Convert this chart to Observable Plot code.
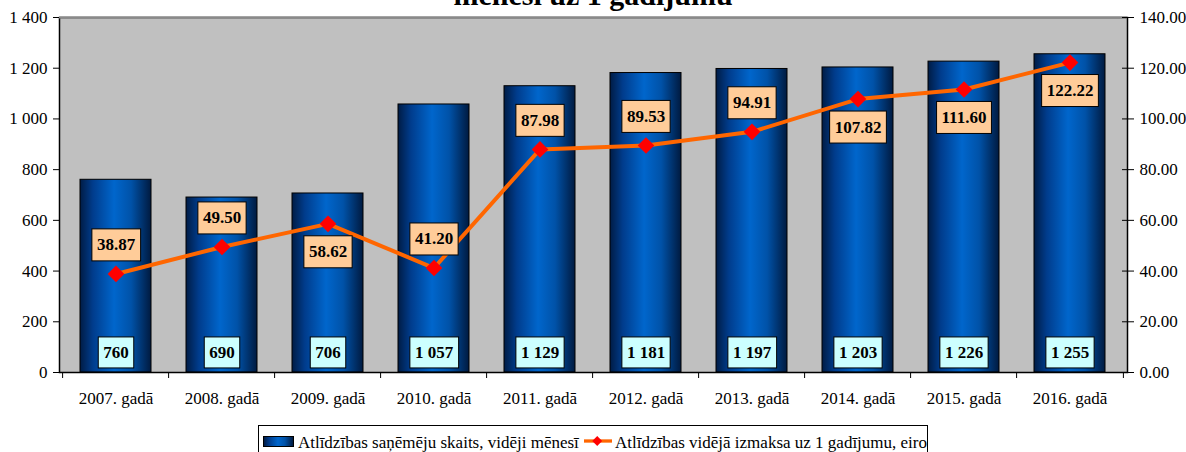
<!DOCTYPE html>
<html><head><meta charset="utf-8">
<script src="https://cdn.jsdelivr.net/npm/d3@7"></script>
<script src="https://cdn.jsdelivr.net/npm/@observablehq/plot@0.6"></script>
<style>
body{margin:0;background:#fff;font-family:"Liberation Serif",serif;}
#wrap{position:relative;width:1186px;height:452px;overflow:hidden;}
#title{position:absolute;left:0;width:1186px;top:-20px;text-align:center;font-weight:bold;font-size:30px;line-height:30px;font-family:"Liberation Serif",serif;white-space:nowrap;}
#chart svg{display:block;}
#legend{position:absolute;left:258px;top:425px;width:670px;height:32px;border:1px solid #000;box-sizing:border-box;display:flex;align-items:flex-start;padding:8px 0 0 4px;font-family:"Liberation Serif",serif;font-size:17px;line-height:17px;color:#000;white-space:nowrap;}
.sw{display:inline-block;width:35px;height:9px;border:1px solid #000;background:linear-gradient(to right,#001c45 0%,#003c8c 18%,#0066cc 48%,#0052a8 72%,#001a40 100%);margin-right:4px;margin-top:2px;}
.ln{display:inline-block;width:34px;height:14px;margin:0 3px 0 5px;}
</style></head>
<body>
<div id="wrap">
  <div id="title">mēnesī uz 1 gadījumu</div>
  <div id="chart"></div>
  <div id="legend"><span class="sw"></span><span>Atlīdzības saņēmēju skaits, vidēji mēnesī</span><svg class="ln" viewBox="0 0 34 14"><line x1="0" x2="34" y1="7" y2="7" stroke="#ff6600" stroke-width="4"/><path d="M16 1 L22 7 L16 13 L10 7 Z" fill="#ff0000"/></svg><span>Atlīdzības vidējā izmaksa uz 1 gadījumu, eiro</span></div>
</div>
<script>
const years = ["2007. gadā","2008. gadā","2009. gadā","2010. gadā","2011. gadā","2012. gadā","2013. gadā","2014. gadā","2015. gadā","2016. gadā"];
const recipients = [760, 690, 706, 1057, 1129, 1181, 1197, 1203, 1226, 1255];
const avgPayment = [38.87, 49.50, 58.62, 41.20, 87.98, 89.53, 94.91, 107.82, 111.60, 122.22];
const leftTicks = [0, 200, 400, 600, 800, 1000, 1200, 1400];
const rightTicks = [0, 20, 40, 60, 80, 100, 120, 140];
// label placement relative to the marker (layout only)
const labelSide = ["above","above","below","above","above","above","above","below","below","below"];

const ratio = 1400 / 140; // right axis maps onto left axis range
const data = years.map((y, i) => ({year: y, count: recipients[i], avg: avgPayment[i], side: labelSide[i]}));
const loc = d3.formatLocale({thousands: " ", grouping: [3], decimal: ".", currency: ["", ""]});
const fmtInt = loc.format(",d");

const W = 1186, H = 422, ML = 59, MR = 59;
const step = (W - ML - MR) / years.length;

const plot = Plot.plot({
  width: W, height: H,
  marginLeft: ML, marginRight: MR, marginTop: 17, marginBottom: 50,
  style: {fontFamily: "'Liberation Serif', serif", fontSize: "17px", color: "#000", background: "#fff"},
  x: {domain: years, type: "band", paddingInner: 0.33, paddingOuter: 0.165, label: null},
  y: {domain: [0, 1400], nice: false, label: null},
  marks: [
    Plot.frame({fill: "#c0c0c0", stroke: "none"}),
    Plot.barY(data, {x: "year", y: "count", fill: "url(#barGrad)", stroke: "#000", strokeWidth: 1}),
    Plot.text(data, {x: "year", y: () => 0, text: d => fmtInt(d.count), dy: -20, fontWeight: "bold", fontSize: 17, fill: "#000"}),
    Plot.line(data, {x: "year", y: d => d.avg * ratio, stroke: "#ff6600", strokeWidth: 4}),
    Plot.dot(data, {x: "year", y: d => d.avg * ratio, symbol: "diamond2", r: 7.5, fill: "#ff0000", stroke: "none"}),
    Plot.text(data.filter(d => d.side === "above"), {x: "year", y: d => d.avg * ratio, text: d => d.avg.toFixed(2), dy: -29, fontWeight: "bold", fontSize: 17, fill: "#000"}),
    Plot.text(data.filter(d => d.side === "below"), {x: "year", y: d => d.avg * ratio, text: d => d.avg.toFixed(2), dy: 28, fontWeight: "bold", fontSize: 17, fill: "#000"}),
    Plot.frame({stroke: "#000", strokeWidth: 1.5}),
    Plot.ruleY([1400], {stroke: "#8a8a8a", strokeWidth: 2}),
    Plot.axisY(leftTicks, {anchor: "left", tickSize: 6, tickPadding: 6, tickFormat: d => fmtInt(d)}),
    Plot.axisY(rightTicks.map(v => v * ratio), {anchor: "right", tickSize: 6, tickPadding: 6, tickFormat: d => (d / ratio).toFixed(2)}),
    Plot.axisY(rightTicks.map(v => v * ratio), {anchor: "right", tickSize: 6, dx: -6, tickFormat: () => ""}),
    Plot.axisX({tickSize: 0, tickPadding: 19}),
    Plot.axisX({tickSize: 6, dx: -step / 2, tickFormat: () => ""}),
    Plot.axisX([years[years.length - 1]], {tickSize: 6, dx: step / 2, tickFormat: () => ""})
  ]
});

document.getElementById("chart").appendChild(plot);

// gradient definition for the bars
const ns = "http://www.w3.org/2000/svg";
const defs = document.createElementNS(ns, "defs");
defs.innerHTML = `<linearGradient id="barGrad" x1="0" x2="1" y1="0" y2="0">
<stop offset="0" stop-color="#001c45"/><stop offset="0.18" stop-color="#003c8c"/>
<stop offset="0.48" stop-color="#0066cc"/><stop offset="0.72" stop-color="#0052a8"/>
<stop offset="1" stop-color="#001a40"/></linearGradient>`;
plot.insertBefore(defs, plot.firstChild);

// label boxes behind the data labels (text-mark groups in mark order)
function boxGroup(g, fill, padX, h) {
  g.querySelectorAll("text").forEach(t => {
    const b = t.getBBox();
    const r = document.createElementNS(ns, "rect");
    r.setAttribute("x", b.x - padX);
    r.setAttribute("width", b.width + 2 * padX);
    r.setAttribute("y", b.y + b.height / 2 - h / 2);
    r.setAttribute("height", h);
    r.setAttribute("fill", fill);
    r.setAttribute("stroke", "#000");
    r.setAttribute("stroke-width", "1");
    if (t.getAttribute("transform")) r.setAttribute("transform", t.getAttribute("transform"));
    t.parentNode.insertBefore(r, t);
  });
}
const textGroups = plot.querySelectorAll('g[aria-label="text"]');
if (textGroups.length >= 3) {
  boxGroup(textGroups[0], "#ccffff", 5, 31);
  boxGroup(textGroups[1], "#ffcc99", 5, 32);
  boxGroup(textGroups[2], "#ffcc99", 5, 32);
}
</script>
</body></html>
